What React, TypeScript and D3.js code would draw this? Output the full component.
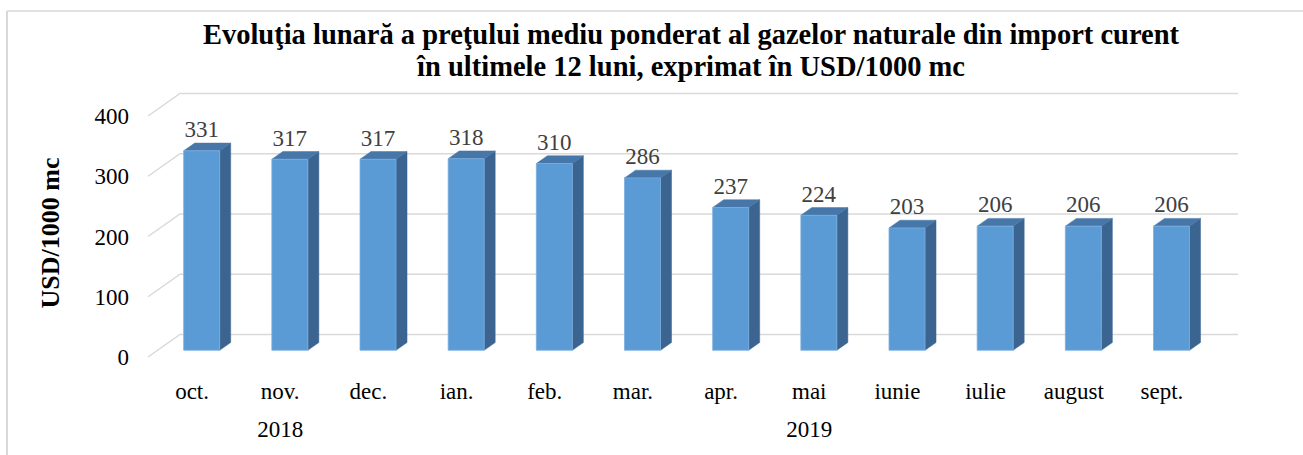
import React from "react";
import * as d3 from "d3";

const months = ["oct.", "nov.", "dec.", "ian.", "feb.", "mar.", "apr.", "mai", "iunie", "iulie", "august", "sept."];
const values = [331, 317, 317, 318, 310, 286, 237, 224, 203, 206, 206, 206];
const years = [
  { label: "2018", from: 0, to: 2 },
  { label: "2019", from: 3, to: 11 },
];
const yTicks = [0, 100, 200, 300, 400];
const titleLines = [
  "Evoluţia lunară a preţului mediu ponderat al gazelor naturale din import curent",
  "în ultimele 12 luni, exprimat în USD/1000 mc",
];
const yTitle = "USD/1000 mc";

const W = 1303;
const H = 455;
const DX = 32;
const DY = -22.5;
const D0 = 0.3;
const D1 = 0.644;
const HALF = 18;

export default function App() {
  const x = d3.scaleBand<string>().domain(months).range([148, 1206]).paddingInner(0).paddingOuter(0);
  const y = d3.scaleLinear().domain([0, 400]).range([357, 116]);
  const bw = x.bandwidth();
  const P = (px: number, py: number, d: number): [number, number] => [px + DX * d, py + DY * d];
  const poly = (pts: [number, number][]) => pts.map((p) => p.join(",")).join(" ");
  const font = "'Liberation Serif', 'Times New Roman', serif";

  return (
    <svg width={W} height={H} style={{ position: "absolute", left: 0, top: 0, background: "#fff" }}>
      <line x1={7} y1={11} x2={1303} y2={11} stroke="#d9d9d9" strokeWidth={1.5} />
      <line x1={7} y1={11} x2={7} y2={455} stroke="#d9d9d9" strokeWidth={2} />
      {titleLines.map((t, i) => (
        <text key={i} x={691} y={44 + i * 32} textAnchor="middle" fontFamily={font} fontWeight="bold" fontSize={28.5} fill="#000">
          {t}
        </text>
      ))}
      {yTicks.map((t) => {
        const a = P(148, y(t), 0);
        const b = P(148, y(t), 1);
        const c = P(1206, y(t), 1);
        return (
          <g key={t}>
            <polyline points={poly([a, b, c])} fill="none" stroke="#d9d9d9" strokeWidth={1.5} />
            <text x={129} y={y(t) + 8} textAnchor="end" fontFamily={font} fontSize={23} fill="#000">
              {t}
            </text>
          </g>
        );
      })}
      <text transform={`translate(59,233) rotate(-90)`} textAnchor="middle" fontFamily={font} fontWeight="bold" fontSize={26} fill="#000">
        {yTitle}
      </text>
      {months.map((m, i) => {
        const c = (x(m) as number) + bw / 2;
        const v = values[i];
        const l = c - HALF;
        const r = c + HALF;
        const y0 = y(0);
        const yv = y(v);
        const front = [P(l, yv, D0), P(r, yv, D0), P(r, y0, D0), P(l, y0, D0)];
        const side = [P(r, yv, D0), P(r, yv, D1), P(r, y0, D1), P(r, y0, D0)];
        const top = [P(l, yv, D0), P(l, yv, D1), P(r, yv, D1), P(r, yv, D0)];
        const labelPos = P(c, yv, D1);
        const fc = P(c, yv, D0);
        return (
          <g key={m}>
            <polygon points={poly(side)} fill="#3b6590" stroke="#3b6590" strokeWidth={0.5} />
            <polygon points={poly(top)} fill="#4677a8" stroke="#4677a8" strokeWidth={0.5} />
            <polygon points={poly(front)} fill="#5b9bd5" stroke="#7aaee0" strokeWidth={0.8} />
            <text x={fc[0]} y={labelPos[1] - 6} textAnchor="middle" fontFamily={font} fontSize={23} fill="#404040">
              {v}
            </text>
            <text x={c} y={399} textAnchor="middle" fontFamily={font} fontSize={23} fill="#000">
              {m}
            </text>
          </g>
        );
      })}
      {years.map((yr) => {
        const c = ((x(months[yr.from]) as number) + (x(months[yr.to]) as number) + bw) / 2;
        return (
          <text key={yr.label} x={c} y={437} textAnchor="middle" fontFamily={font} fontSize={23} fill="#000">
            {yr.label}
          </text>
        );
      })}
    </svg>
  );
}
